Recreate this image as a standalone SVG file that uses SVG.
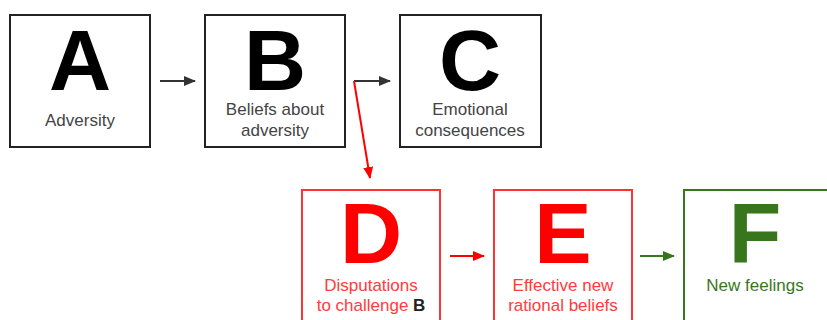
<svg xmlns="http://www.w3.org/2000/svg" width="827" height="320" viewBox="0 0 827 320">
<defs>
<style>
.box{fill:#fff;stroke-width:2}
.big{font-family:"Liberation Sans",Arial,sans-serif;font-weight:bold;font-size:86px;text-anchor:middle}
.lbl{font-family:"Liberation Sans",Arial,sans-serif;font-size:17px;text-anchor:middle}
</style>
<marker id="ak" markerWidth="12" markerHeight="10" refX="11" refY="5" orient="auto" markerUnits="userSpaceOnUse"><path d="M0,0 L12,5 L0,10 z" fill="#333"/></marker>
<marker id="ar" markerWidth="12" markerHeight="10" refX="11" refY="5" orient="auto" markerUnits="userSpaceOnUse"><path d="M0,0 L12,5 L0,10 z" fill="#ff0000"/></marker>
<marker id="ag" markerWidth="12" markerHeight="10" refX="11" refY="5" orient="auto" markerUnits="userSpaceOnUse"><path d="M0,0 L12,5 L0,10 z" fill="#38761d"/></marker>
</defs>
<rect width="827" height="320" fill="#fff"/>
<g id="nodeA">
<rect class="box" x="10" y="15" width="140" height="132" stroke="#222"/>
<text class="big" x="80" y="90" fill="#000">A</text>
<text class="lbl" x="80" y="126" fill="#444">Adversity</text>
</g>
<g id="nodeB">
<rect class="box" x="205" y="15" width="140" height="132" stroke="#222"/>
<text class="big" x="275" y="90" fill="#000">B</text>
<text class="lbl" x="275" y="115" fill="#444">Beliefs about</text>
<text class="lbl" x="275" y="136" fill="#444">adversity</text>
</g>
<g id="nodeC">
<rect class="box" x="400" y="15" width="141" height="132" stroke="#222"/>
<text class="big" x="470" y="90" fill="#000">C</text>
<text class="lbl" x="470" y="115" fill="#444">Emotional</text>
<text class="lbl" x="470" y="136" fill="#444">consequences</text>
</g>
<g id="nodeD">
<rect class="box" x="302" y="190" width="138" height="140" stroke="#ff3333"/>
<text class="big" x="371" y="263" fill="#ff0000">D</text>
<text class="lbl" x="371" y="291" fill="#ff3b3b">Disputations</text>
<text class="lbl" x="371" y="311" fill="#ff3b3b">to challenge <tspan font-weight="bold" fill="#222">B</tspan></text>
</g>
<g id="nodeE">
<rect class="box" x="494" y="190" width="138" height="140" stroke="#ff3333"/>
<text class="big" x="563" y="263" fill="#ff0000">E</text>
<text class="lbl" x="563" y="291" fill="#ff3b3b">Effective new</text>
<text class="lbl" x="563" y="311" fill="#ff3b3b">rational beliefs</text>
</g>
<g id="nodeF">
<rect class="box" x="684" y="190" width="150" height="140" stroke="#38761d"/>
<text class="big" x="755" y="263" fill="#38761d">F</text>
<text class="lbl" x="755" y="291" fill="#38761d">New feelings</text>
</g>
<g id="connectors" fill="none" stroke-width="2">
<line x1="160" y1="81" x2="195" y2="81" stroke="#333" marker-end="url(#ak)"/>
<line x1="354" y1="81" x2="390" y2="81" stroke="#333" marker-end="url(#ak)"/>
<line x1="354" y1="81" x2="370" y2="178" stroke="#ff0000" marker-end="url(#ar)"/>
<line x1="450" y1="256" x2="484" y2="256" stroke="#ff0000" marker-end="url(#ar)"/>
<line x1="640" y1="256" x2="674" y2="256" stroke="#38761d" marker-end="url(#ag)"/>
</g>
</svg>
